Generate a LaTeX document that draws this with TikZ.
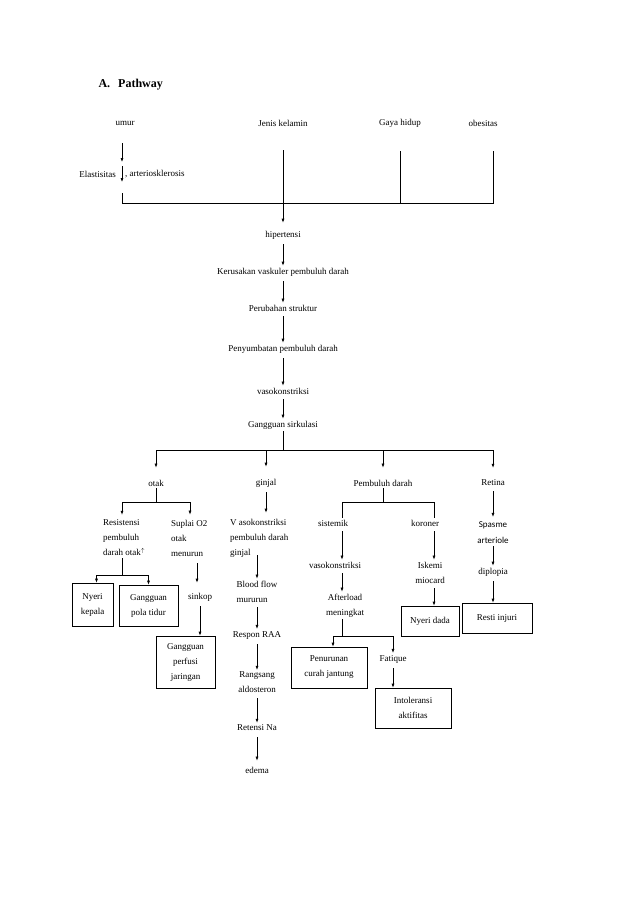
\documentclass[tikz,border=0pt]{standalone}
\usepackage{fontspec}
\setmainfont{Liberation Serif}
\newfontfamily\spasmefont{Carlito}
\usetikzlibrary{arrows.meta}
\tikzset{
  txt/.style={font=\fontsize{9}{15}\selectfont, inner sep=2pt, align=center},
  txtl/.style={txt, align=left},
  kotak/.style={txt, draw, line width=0.6pt},
  garis/.style={line width=0.6pt},
  panah/.style={garis, -{Latex[length=4pt,width=3pt]}, shorten <=3pt},
}
\begin{document}
\begin{tikzpicture}[x=1pt,y=-1pt]
  \useasboundingbox (0,0) rectangle (638,903);
  \node[font=\bfseries\fontsize{12}{14}\selectfont, anchor=west] (judul) at (95,85) {A.\hspace{8pt}Pathway};
  % faktor risiko
  \node[txt] (umur) at (125,123) {umur};
  \node[txt] (jenis) at (283,123) {Jenis kelamin};
  \node[txt] (gaya) at (400,123) {Gaya hidup};
  \node[txt] (obes) at (483,123) {obesitas};
  \node[txt, anchor=east] (elast) at (118,174) {Elastisitas};
  \node[txt, anchor=west] (arterio) at (123,174) {, arteriosklerosis};
  \coordinate (turun) at (122,166);
  \coordinate (busR) at (493,203);
  \draw[panah, shorten <=16pt, shorten >=4pt] (umur.south -| turun) -- (turun);
  \draw[panah, shorten <=0pt] (turun) -- ++(0,16);
  \draw[garis] (turun) ++(0,27) |- (busR) -- ++(0,-52);
  \draw[garis] (gaya.south |- busR) -- ++(0,-52);
  % rantai utama
  \node[txt] (hip) at (283,235) {hipertensi};
  \node[txt] (rusak) at (283,272) {Kerusakan vaskuler pembuluh darah};
  \node[txt] (ubah) at (283,308) {Perubahan struktur};
  \node[txt] (sumbat) at (283,349) {Penyumbatan pembuluh darah};
  \node[txt] (vaso) at (283,391) {vasokonstriksi};
  \node[txt] (sirk) at (283,425) {Gangguan sirkulasi};
  \draw[panah, shorten <=22pt, shorten >=6pt] (jenis) -- (hip);
  \draw[panah] (hip) -- (rusak);
  \draw[panah] (rusak) -- (ubah);
  \draw[panah] (ubah) -- (sumbat);
  \draw[panah] (sumbat) -- (vaso);
  \draw[panah] (vaso) -- (sirk);
  % cabang organ
  \node[txt] (otak) at (156,483) {otak};
  \node[txt] (ginjal) at (266,483) {ginjal};
  \node[txt] (pd) at (383,483) {Pembuluh darah};
  \node[txt] (retina) at (493,483) {Retina};
  \coordinate (bus2) at (283,450);
  \draw[garis] (sirk) -- (bus2);
  \draw[garis] (otak |- bus2) -- (retina |- bus2);
  \foreach \n in {otak,ginjal,pd,retina}
    \draw[panah, shorten <=0pt, shorten >=10pt] (\n |- bus2) -- (\n);
  % otak
  \node[txtl, anchor=west] (resist) at (101,538) {Resistensi\\pembuluh\\darah otak\textsuperscript{$\uparrow$}};
  \node[txtl, anchor=west] (suplai) at (169,538) {Suplai O2\\otak\\menurun};
  \node[kotak, minimum width=41pt, minimum height=43pt] (kepala) at (92.5,604.5) {Nyeri\\kepala};
  \node[kotak, minimum width=59pt, minimum height=41pt] (tidur) at (148.5,605.5) {Gangguan\\pola tidur};
  \node[txt] (sinkop) at (200,597) {sinkop};
  \node[kotak, minimum width=59pt, minimum height=52pt] (perfusi) at (185.5,662) {Gangguan\\perfusi\\jaringan};
  \coordinate (b3l) at (122,502);
  \coordinate (b3r) at (190,502);
  \coordinate (b4) at (122,575);
  \draw[garis] (otak) -- (otak |- b3l);
  \draw[garis] (b3l) -- (b3r);
  \draw[panah, shorten <=0pt, shorten >=3pt] (b3l) -- (b3l |- resist.north);
  \draw[panah, shorten <=0pt, shorten >=3pt] (b3r) -- (b3r |- suplai.north);
  \draw[garis] (b4 |- resist.south) -- (b4);
  \draw[panah, shorten <=0pt] (b4) -| ([xshift=4pt]kepala.north);
  \draw[panah, shorten <=0pt] (b4) -| (tidur.north);
  \draw[panah, shorten <=5pt, shorten >=8pt] ([xshift=-3pt]sinkop.north |- suplai.south) -- ([xshift=-3pt]sinkop.north);
  \draw[panah, xshift=-2pt] (sinkop) -- (sinkop |- perfusi.north);
  % ginjal
  \node[txtl, anchor=west] (vaskons) at (228,538) {V asokonstriksi\\pembuluh darah\\ginjal};
  \node[txtl] (blood) at (257,591.5) {Blood flow\\mururun};
  \node[txt] (raa) at (257,635) {Respon RAA};
  \node[txt] (aldo) at (257,682.5) {Rangsang\\aldosteron};
  \node[txt] (na) at (257,728) {Retensi Na};
  \node[txt] (edema) at (257,770) {edema};
  \draw[panah, shorten >=4pt] (ginjal) -- (ginjal |- vaskons.north);
  \draw[panah, shorten <=-4pt] (blood |- vaskons.south) -- (blood);
  \draw[panah] (blood) -- (raa);
  \draw[panah] (raa) -- (aldo);
  \draw[panah] (aldo) -- (na);
  \draw[panah, shorten <=4pt, shorten >=4pt] (na) -- (edema);
  % pembuluh darah
  \node[txt] (sistemik) at (333,523) {sistemik};
  \node[txt] (koroner) at (425,523) {koroner};
  \node[txt] (vaso2) at (335,565) {vasokonstriksi};
  \node[txt] (after) at (345,605.5) {Afterload\\meningkat};
  \node[kotak, minimum width=76pt, minimum height=41pt] (curah) at (329,667.5) {Penurunan\\curah jantung};
  \node[txt] (fatique) at (393,659) {Fatique};
  \node[kotak, minimum width=76pt, minimum height=40pt] (intol) at (413,708) {Intoleransi\\aktifitas};
  \node[txt] (iskemi) at (430,572.5) {Iskemi\\miocard};
  \node[kotak, minimum width=58pt, minimum height=30pt] (dada) at (430,621) {Nyeri dada};
  \coordinate (b5l) at (342,502);
  \coordinate (b5r) at (434,502);
  \coordinate (b6) at (342,636);
  \draw[garis] (pd) -- (pd |- b5l);
  \draw[garis] (b5l) -- (b5r);
  \draw[garis] (b5l) -- (b5l |- sistemik.north);
  \draw[garis] (b5r) -- (b5r |- koroner.north);
  \draw[panah] (b5l |- sistemik.south) -- (b5l |- vaso2.north);
  \draw[panah] (b5l |- vaso2.south) -- (b5l |- after.north);
  \draw[garis] (b6 |- after.south) -- (b6);
  \draw[panah, shorten <=0pt] (b6) -| ([xshift=4pt]curah.north);
  \draw[panah, shorten <=0pt] (b6) -| (fatique.north);
  \draw[panah] (fatique) -- (fatique |- intol.north);
  \draw[panah] (b5r |- koroner.south) -- (b5r |- iskemi.north);
  \draw[panah] (b5r |- iskemi.south) -- (b5r |- dada.north);
  % retina
  \node[txt, font=\spasmefont\fontsize{9}{16}\selectfont] (spasme) at (493,533) {Spasme\\arteriole};
  \node[txt] (diplopia) at (493,572) {diplopia};
  \node[kotak, minimum width=70pt, minimum height=30pt] (resti) at (497,618) {Resti injuri};
  \draw[panah, shorten >=3pt] (retina) -- (spasme);
  \draw[panah, shorten <=0pt] (spasme) -- (diplopia);
  \draw[panah] (diplopia) -- (diplopia |- resti.north);
\end{tikzpicture}
\end{document}
